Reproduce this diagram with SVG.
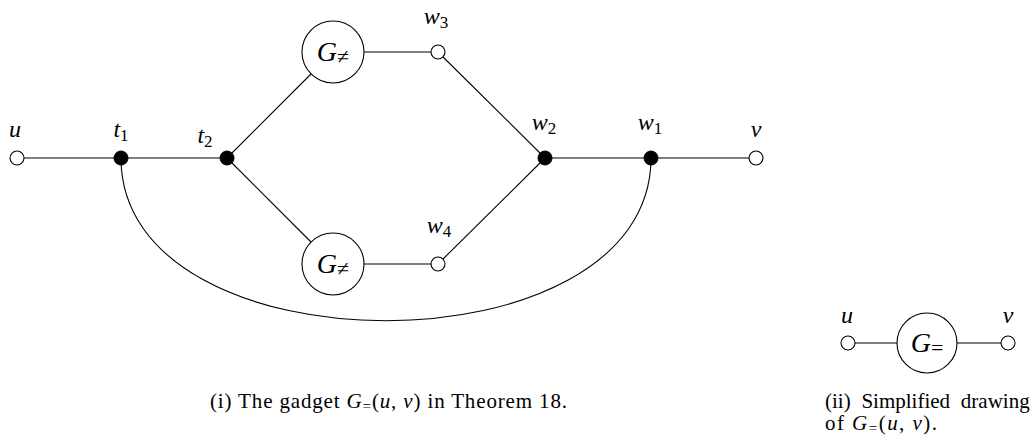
<svg xmlns="http://www.w3.org/2000/svg" width="1036" height="441" viewBox="0 0 1036 441">
<style>
.e{stroke:#000;stroke-width:1.1;fill:none}
.o{fill:#fff;stroke:#000;stroke-width:1.1}
.f{fill:#000;stroke:#000;stroke-width:1}
.m{font-family:"Liberation Serif","DejaVu Serif",serif;font-style:italic;font-size:24px;fill:#000}
.g{font-family:"Liberation Serif","DejaVu Serif",serif;font-style:italic;font-size:28px;fill:#000}
.s{font-style:normal;font-size:17px}
.r{font-style:normal;font-size:22px}
.c{font-family:"Liberation Serif","DejaVu Serif",serif;font-size:21px;fill:#000}
</style>
<g id="connectors">
<line class="e" x1="17" y1="158" x2="227" y2="158"/>
<line class="e" x1="545" y1="158" x2="756" y2="158"/>
<path class="e" d="M121,158 C121,375 651,375 651,158"/>
<line class="e" x1="227" y1="158" x2="311" y2="74"/>
<line class="e" x1="227" y1="158" x2="311" y2="242"/>
<line class="e" x1="364" y1="52" x2="438" y2="52"/>
<line class="e" x1="364" y1="264" x2="438" y2="264"/>
<line class="e" x1="438" y1="52" x2="545" y2="158"/>
<line class="e" x1="438" y1="264" x2="545" y2="158"/>
<line class="e" x1="848" y1="343" x2="1008" y2="343"/>
</g>
<g id="u"><circle class="o" cx="17" cy="158" r="7"/><text class="m" x="15" y="137" text-anchor="middle">u</text></g>
<g id="t1"><circle class="f" cx="121" cy="158" r="7"/><text class="m" x="121" y="137" text-anchor="middle">t<tspan class="s" dy="4">1</tspan></text></g>
<g id="t2"><circle class="f" cx="227" cy="158" r="7"/><text class="m" x="205" y="143" text-anchor="middle">t<tspan class="s" dy="4">2</tspan></text></g>
<g id="gneq1"><circle class="o" cx="333" cy="52" r="31"/><text class="g" x="333" y="61" text-anchor="middle">G<tspan class="r" dy="3">≠</tspan></text></g>
<g id="gneq2"><circle class="o" cx="333" cy="264" r="31"/><text class="g" x="333" y="273" text-anchor="middle">G<tspan class="r" dy="3">≠</tspan></text></g>
<g id="w3"><circle class="o" cx="438" cy="52" r="7"/><text class="m" x="436" y="24" text-anchor="middle">w<tspan class="s" dy="4">3</tspan></text></g>
<g id="w4"><circle class="o" cx="438" cy="264" r="7"/><text class="m" x="439" y="233" text-anchor="middle">w<tspan class="s" dy="4">4</tspan></text></g>
<g id="w2"><circle class="f" cx="545" cy="158" r="7"/><text class="m" x="544" y="130" text-anchor="middle">w<tspan class="s" dy="4">2</tspan></text></g>
<g id="w1"><circle class="f" cx="651" cy="158" r="7"/><text class="m" x="650" y="130" text-anchor="middle">w<tspan class="s" dy="4">1</tspan></text></g>
<g id="v"><circle class="o" cx="756" cy="158" r="7"/><text class="m" x="756" y="137" text-anchor="middle">v</text></g>
<g id="u2"><circle class="o" cx="848" cy="343" r="7"/><text class="m" x="847" y="323" text-anchor="middle">u</text></g>
<g id="geq"><circle class="o" cx="927" cy="343" r="30"/><text class="g" x="927" y="352" text-anchor="middle">G<tspan class="r" dy="3">=</tspan></text></g>
<g id="v2"><circle class="o" cx="1008" cy="343" r="7"/><text class="m" x="1008" y="323" text-anchor="middle">v</text></g>
<g id="captions">
<text class="c" x="210" y="408" textLength="357" lengthAdjust="spacing">(i) The gadget <tspan font-style="italic">G</tspan><tspan font-size="15" dy="3">=</tspan><tspan dy="-3">(</tspan><tspan font-style="italic">u</tspan>, <tspan font-style="italic">v</tspan>) in Theorem 18.</text>
<text class="c" x="825" y="408" word-spacing="5.5">(ii) Simplified drawing</text>
<text class="c" x="825" y="430" textLength="112" lengthAdjust="spacing">of <tspan font-style="italic">G</tspan><tspan font-size="15" dy="3">=</tspan><tspan dy="-3">(</tspan><tspan font-style="italic">u</tspan>, <tspan font-style="italic">v</tspan>).</text>
</g>
</svg>
